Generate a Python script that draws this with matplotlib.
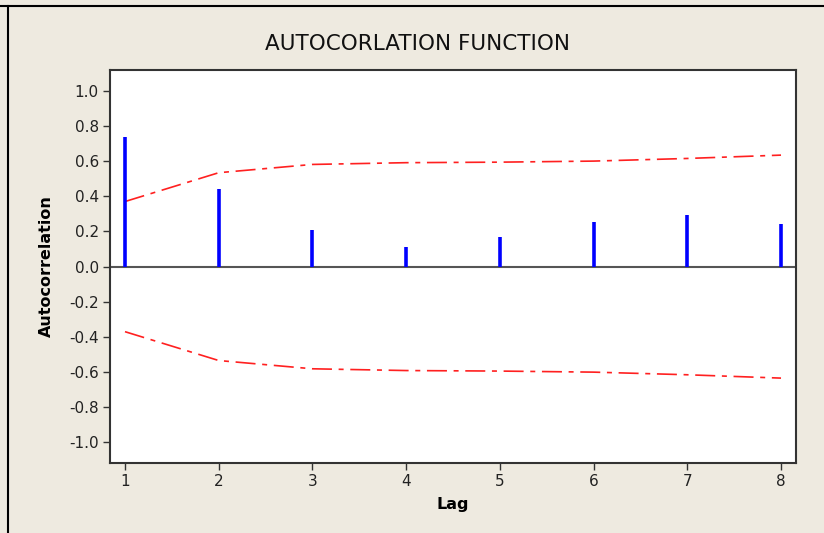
import numpy as np
import matplotlib.pyplot as plt
from matplotlib.lines import Line2D

# values
lags = [1, 2, 3, 4, 5, 6, 7, 8]
acf = [0.735, 0.44, 0.208, 0.114, 0.170, 0.256, 0.295, 0.241]
limit = [0.37, 0.534, 0.581, 0.591, 0.594, 0.600, 0.615, 0.634]
yticks = [-1.0, -0.8, -0.6, -0.4, -0.2, 0.0, 0.2, 0.4, 0.6, 0.8, 1.0]

bg = '#EEEAE0'
fig = plt.figure(figsize=(8.24, 5.33), dpi=100, facecolor=bg)
ax = fig.add_axes([110 / 824, 1 - 462.7 / 533, 686 / 824, 392.7 / 533])
ax.set_facecolor('white')

# stems
ax.vlines(lags, 0, acf, color='#0000FF', linewidth=2.6, zorder=3)
ax.axhline(0, color='#555555', linewidth=1.5, zorder=2)

# significance limits (dash-dot)
lo = [-v for v in limit]
dash = (0, (12, 4, 3, 4))
ax.plot(lags, limit, color='#FF2020', linewidth=1.2, linestyle=dash)
ax.plot(lags, lo, color='#FF2020', linewidth=1.2, linestyle=dash)

ax.set_xlim(0.84, 8.16)
ax.set_ylim(-1.115, 1.118)
ax.set_xticks(lags)
ax.set_yticks(yticks)
ax.set_yticklabels([f'{v:.1f}' for v in yticks])

for s in ['left', 'bottom', 'right', 'top']:
    ax.spines[s].set_color('#333333')
    ax.spines[s].set_linewidth(1.5)
ax.tick_params(direction='out', length=5, width=1, color='#333333',
               labelcolor='#222222', labelsize=11, pad=3)

ax.set_ylabel('Autocorrelation', fontsize=11.5, fontweight='bold', labelpad=11)
ax.set_xlabel('Lag', fontsize=11.5, fontweight='bold', labelpad=6)

fig.text(417 / 824, 1 - 44 / 533, 'AUTOCORLATION FUNCTION', ha='center',
         va='center', fontsize=15.5, family='DejaVu Sans', color='#111111')

# frame lines of the original window
fig.add_artist(Line2D([0, 1], [1 - 6 / 533, 1 - 6 / 533], color='black', linewidth=1.5))
fig.add_artist(Line2D([8 / 824, 8 / 824], [0, 1 - 6 / 533], color='black', linewidth=1.5))

fig.savefig('out.png', dpi=100, facecolor=bg)
